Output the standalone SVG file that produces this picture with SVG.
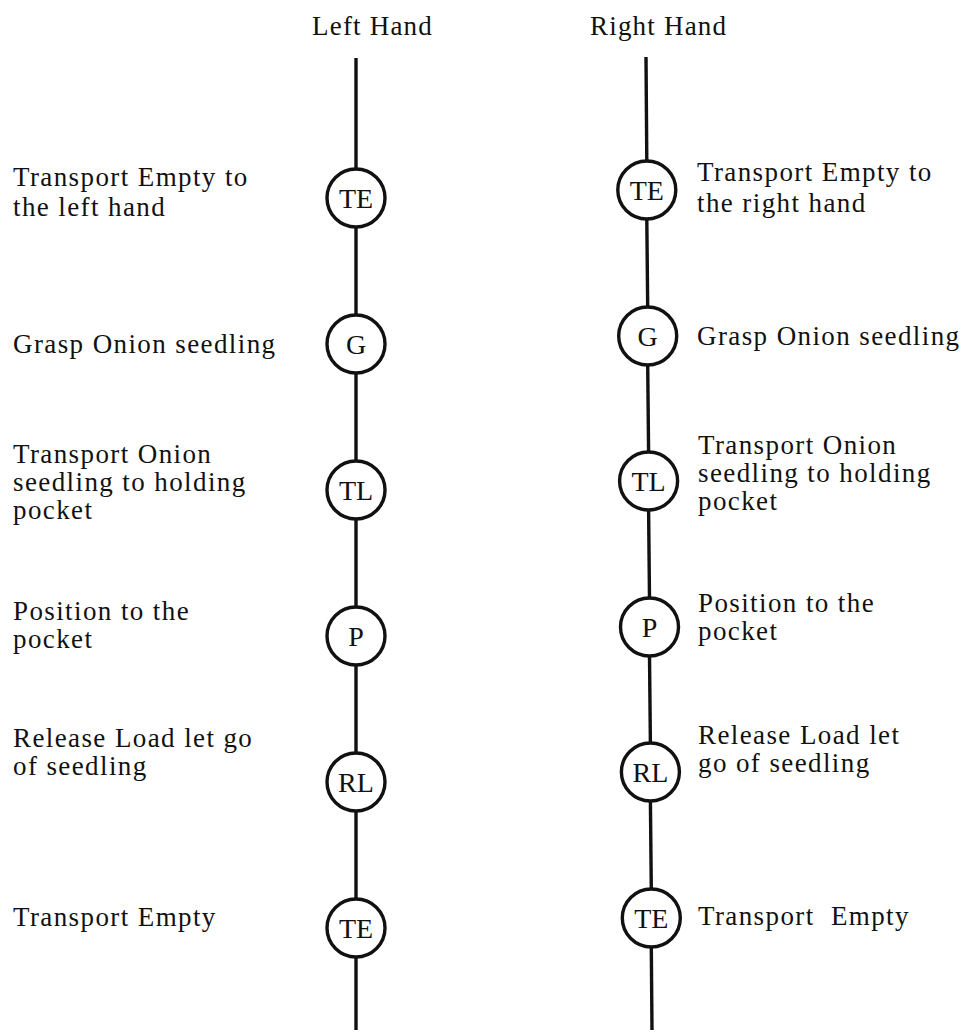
<svg xmlns="http://www.w3.org/2000/svg" width="965" height="1032" viewBox="0 0 965 1032">
<style>
.bg{fill:#ffffff}
.lbl{font-family:"Liberation Serif","Times New Roman",serif;font-size:27px;letter-spacing:1.4px;fill:#111}
.hd{font-family:"Liberation Serif","Times New Roman",serif;font-size:27px;letter-spacing:1.2px;fill:#111}
.sym{font-family:"Liberation Serif","Times New Roman",serif;font-size:28px;fill:#111;text-anchor:middle}
.ring{fill:#fff;stroke:#111;stroke-width:3.4}
.conn line{stroke:#111;stroke-width:3.4;stroke-linecap:butt}
</style>
<rect class="bg" x="0" y="0" width="965" height="1032"/>
<g id="headers">
<text class="hd" x="312" y="35">Left Hand</text>
<text class="hd" x="590" y="35">Right Hand</text>
</g>
<g id="connectors" class="conn">
<line x1="356" y1="58" x2="356" y2="169"/>
<line x1="356" y1="227" x2="356" y2="315"/>
<line x1="356" y1="373" x2="356" y2="461"/>
<line x1="356" y1="519" x2="356" y2="607"/>
<line x1="356" y1="665" x2="356" y2="753"/>
<line x1="356" y1="811" x2="356" y2="899"/>
<line x1="356" y1="957" x2="356" y2="1030"/>
<line x1="646" y1="57" x2="646.8" y2="161"/>
<line x1="646.8" y1="219" x2="647.7" y2="307"/>
<line x1="647.7" y1="365" x2="648.6" y2="452"/>
<line x1="648.6" y1="510" x2="649.5" y2="598"/>
<line x1="649.5" y1="656" x2="650.4" y2="743"/>
<line x1="650.4" y1="801" x2="651.3" y2="889"/>
<line x1="651.3" y1="947" x2="652" y2="1030"/>
</g>
<g id="L1"><circle class="ring" cx="356" cy="198" r="29"/><text class="sym" x="356" y="208">TE</text>
<text class="lbl" x="13" y="186">Transport Empty to</text><text class="lbl" x="13" y="216">the left hand</text></g>
<g id="L2"><circle class="ring" cx="356" cy="344" r="29"/><text class="sym" x="356" y="354">G</text>
<text class="lbl" x="13" y="353">Grasp Onion seedling</text></g>
<g id="L3"><circle class="ring" cx="356" cy="490" r="29"/><text class="sym" x="356" y="500">TL</text>
<text class="lbl" x="13" y="463">Transport Onion</text><text class="lbl" x="13" y="491">seedling to holding</text><text class="lbl" x="13" y="519">pocket</text></g>
<g id="L4"><circle class="ring" cx="356" cy="636" r="29"/><text class="sym" x="356" y="646">P</text>
<text class="lbl" x="13" y="620">Position to the</text><text class="lbl" x="13" y="648">pocket</text></g>
<g id="L5"><circle class="ring" cx="356" cy="782" r="29"/><text class="sym" x="356" y="792">RL</text>
<text class="lbl" x="13" y="747">Release Load let go</text><text class="lbl" x="13" y="775">of seedling</text></g>
<g id="L6"><circle class="ring" cx="356" cy="928" r="29"/><text class="sym" x="356" y="938">TE</text>
<text class="lbl" x="13" y="926">Transport Empty</text></g>
<g id="R1"><circle class="ring" cx="646.8" cy="190" r="29"/><text class="sym" x="646.8" y="200">TE</text>
<text class="lbl" x="697" y="181">Transport Empty to</text><text class="lbl" x="697" y="212">the right hand</text></g>
<g id="R2"><circle class="ring" cx="647.7" cy="336" r="29"/><text class="sym" x="647.7" y="346">G</text>
<text class="lbl" x="697" y="345">Grasp Onion seedling</text></g>
<g id="R3"><circle class="ring" cx="648.6" cy="481" r="29"/><text class="sym" x="648.6" y="491">TL</text>
<text class="lbl" x="698" y="454">Transport Onion</text><text class="lbl" x="698" y="482">seedling to holding</text><text class="lbl" x="698" y="510">pocket</text></g>
<g id="R4"><circle class="ring" cx="649.5" cy="627" r="29"/><text class="sym" x="649.5" y="637">P</text>
<text class="lbl" x="698" y="612">Position to the</text><text class="lbl" x="698" y="640">pocket</text></g>
<g id="R5"><circle class="ring" cx="650.4" cy="772" r="29"/><text class="sym" x="650.4" y="782">RL</text>
<text class="lbl" x="698" y="744">Release Load let</text><text class="lbl" x="698" y="772">go of seedling</text></g>
<g id="R6"><circle class="ring" cx="651.3" cy="918" r="29"/><text class="sym" x="651.3" y="928">TE</text>
<text class="lbl" x="698" y="925" xml:space="preserve">Transport  Empty</text></g>
</svg>
